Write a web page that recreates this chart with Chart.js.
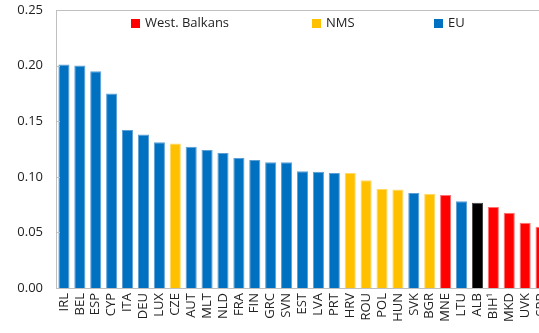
<!DOCTYPE html>
<html>
<head>
<meta charset="utf-8">
<script src="https://cdn.jsdelivr.net/npm/chart.js@4/dist/chart.umd.min.js"></script>
<style>
  html, body { margin: 0; padding: 0; background: #fff; overflow: hidden; }
  #wrap { width: 539px; height: 333px; overflow: hidden; }
</style>
</head>
<body>
<div id="wrap"><canvas id="chart" width="560" height="333"></canvas></div>
<script>
const countries = ['IRL', 'BEL', 'ESP', 'CYP', 'ITA', 'DEU', 'LUX', 'CZE', 'AUT', 'MLT', 'NLD', 'FRA', 'FIN', 'GRC', 'SVN',
  'EST', 'LVA', 'PRT', 'HRV', 'ROU', 'POL', 'HUN', 'SVK', 'BGR', 'MNE', 'LTU', 'ALB', 'BIH\u00B9', 'MKD', 'UVK', 'SRB'];
const values = [0.201, 0.200, 0.195, 0.175, 0.142, 0.138, 0.131, 0.130, 0.127, 0.124, 0.1215, 0.117, 0.115, 0.113, 0.113,
  0.105, 0.1045, 0.1035, 0.1035, 0.097, 0.089, 0.0885, 0.0855, 0.0848, 0.0836, 0.078, 0.0767, 0.0728, 0.0677, 0.0587, 0.055];
const groups = ['EU', 'EU', 'EU', 'EU', 'EU', 'EU', 'EU', 'NMS', 'EU', 'EU', 'EU', 'EU', 'EU', 'EU', 'EU',
  'EU', 'EU', 'EU', 'NMS', 'NMS', 'NMS', 'NMS', 'EU', 'NMS', 'WB', 'EU', 'ALB', 'WB', 'WB', 'WB', 'WB'];
const yTicks = [0, 0.05, 0.10, 0.15, 0.20, 0.25];

const legendItems = [
  { label: 'West. Balkans', group: 'WB', x: 131 },
  { label: 'NMS', group: 'NMS', x: 312 },
  { label: 'EU', group: 'EU', x: 434 }
];

const fill = { EU: '#0070C0', NMS: '#FFC000', WB: '#FF0000', ALB: '#000000' };
const edge = { EU: '#5c9fd6', NMS: '#ffd866', WB: '#ff7070', ALB: '#444444' };
const FONT = '"Open Sans", "Noto Sans", sans-serif';

// frame top line, inward y tick marks and the legend row
const decorations = {
  id: 'decorations',
  afterDraw(chart) {
    const ctx = chart.ctx;
    const area = chart.chartArea;
    const y = chart.scales.y;
    ctx.save();
    ctx.strokeStyle = '#BFBFBF';
    ctx.lineWidth = 1;
    ctx.beginPath();
    ctx.moveTo(area.left, area.top + 0.5);
    ctx.lineTo(area.right, area.top + 0.5);
    yTicks.forEach(t => {
      const py = Math.round(y.getPixelForValue(t)) + 0.5;
      ctx.moveTo(area.left, py);
      ctx.lineTo(area.left + 4, py);
    });
    ctx.stroke();

    ctx.font = '13px ' + FONT;
    ctx.textBaseline = 'middle';
    ctx.textAlign = 'left';
    legendItems.forEach(item => {
      ctx.fillStyle = fill[item.group];
      ctx.fillRect(item.x, 19, 9, 9);
      ctx.fillStyle = '#222';
      ctx.fillText(item.label, item.x + 14, 23);
    });
    ctx.restore();
  }
};

new Chart(document.getElementById('chart'), {
  type: 'bar',
  data: {
    labels: countries,
    datasets: [{
      data: values,
      backgroundColor: groups.map(g => fill[g]),
      borderColor: groups.map(g => edge[g]),
      borderWidth: 1,
      borderSkipped: 'bottom',
      barPercentage: 0.7,
      categoryPercentage: 1.0
    }]
  },
  options: {
    responsive: false,
    animation: false,
    layout: { padding: { top: 10, right: 11, left: 0, bottom: 0 } },
    plugins: { legend: { display: false }, tooltip: { enabled: false } },
    scales: {
      x: {
        grid: { display: false, drawTicks: false },
        border: { color: '#BFBFBF' },
        ticks: {
          autoSkip: false,
          minRotation: 90,
          maxRotation: 90,
          padding: 5,
          color: '#222',
          font: { family: FONT, size: 13 }
        },
        afterFit(scale) {
          scale.height = 45;
          scale.paddingLeft = 0;
          scale.paddingRight = 0;
        }
      },
      y: {
        min: 0,
        max: 0.25,
        afterBuildTicks(scale) { scale.ticks = yTicks.map(v => ({ value: v })); },
        grid: { display: false, drawTicks: false },
        border: { color: '#BFBFBF' },
        ticks: {
          padding: 13,
          color: '#222',
          font: { family: FONT, size: 13 },
          callback: v => v.toFixed(2)
        },
        afterFit(scale) {
          scale.width = 56;
          scale.paddingTop = 0;
          scale.paddingBottom = 0;
        }
      }
    }
  },
  plugins: [decorations]
});
</script>
</body>
</html>
